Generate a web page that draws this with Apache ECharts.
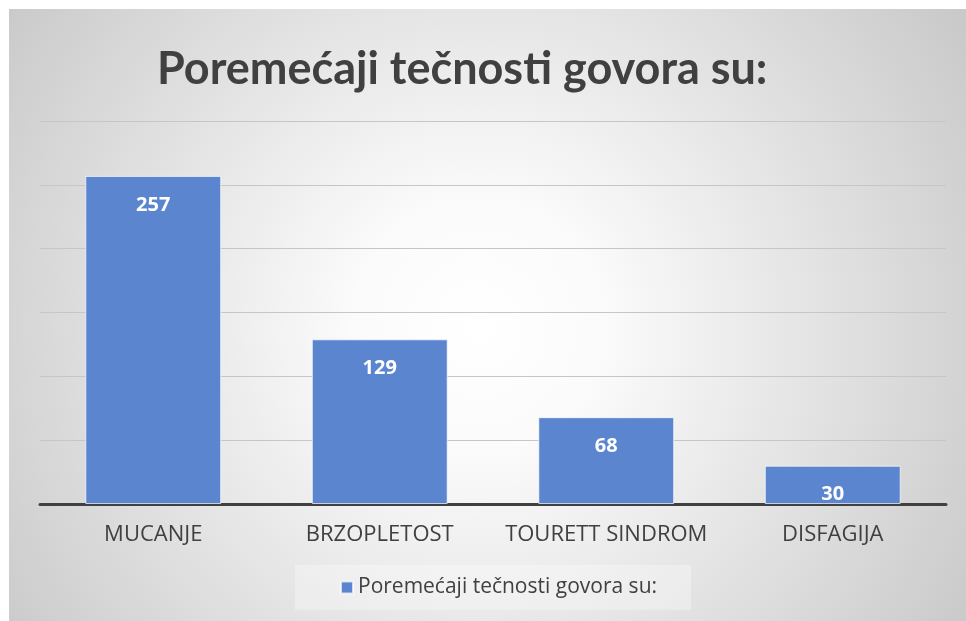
<!DOCTYPE html>
<html>
<head>
<meta charset="utf-8">
<script src="https://cdn.jsdelivr.net/npm/echarts@6/dist/echarts.min.js"></script>
<style>
html,body{margin:0;padding:0;background:#fff;}
#main{width:966px;height:621px;}
</style>
</head>
<body>
<div id="main"></div>
<script>
const titleText = 'Poremećaji tečnosti govora su:';
const seriesName = 'Poremećaji tečnosti govora su:';
const categories = ['MUCANJE', 'BRZOPLETOST', 'TOURETT SINDROM', 'DISFAGIJA'];
const values = [257, 129, 68, 30];
const yMin = 0, yMax = 300, yInterval = 50;

const chart = echarts.init(document.getElementById('main'));
chart.setOption({
  animation: false,
  backgroundColor: '#ffffff',
  graphic: [{
    type: 'rect', z: -10, silent: true,
    shape: { x: 9, y: 9, width: 957, height: 612 },
    style: {
      fill: new echarts.graphic.RadialGradient(0.49, 0.52, 1, [
        { offset: 0, color: '#ffffff' },
        { offset: 0.2, color: '#fbfbfb' },
        { offset: 0.93, color: '#cacaca' },
        { offset: 1, color: '#c7c7c7' }
      ])
    }
  }],
  title: {
    text: titleText,
    left: 152, top: 42,
    textStyle: { fontFamily: 'Lato', fontWeight: 'bold', fontSize: 45, color: '#404040' }
  },
  legend: {
    data: [seriesName],
    left: 295, top: 565,
    icon: 'rect', itemWidth: 12, itemHeight: 12, itemGap: 5,
    padding: [12, 34, 12, 45],
    backgroundColor: 'rgba(255,255,255,0.3)',
    textStyle: { fontFamily: 'Open Sans', fontSize: 21, color: '#404040' }
  },
  grid: { left: 40, right: 20, top: 121, bottom: 117, containLabel: false },
  xAxis: {
    type: 'category', data: categories,
    axisLine: { lineStyle: { color: '#404040', width: 3 } },
    axisTick: { show: false },
    axisLabel: { interval: 0, margin: 20, fontFamily: 'Open Sans', fontSize: 22, color: '#404040' }
  },
  yAxis: {
    type: 'value', min: yMin, max: yMax, interval: yInterval,
    axisLabel: { show: false }, axisLine: { show: false }, axisTick: { show: false },
    splitLine: { lineStyle: { color: '#c6c6c6', width: 1 } }
  },
  series: [{
    name: seriesName, type: 'bar', data: values, barWidth: '60%',
    itemStyle: { color: '#5b86cf', borderColor: 'rgba(255,255,255,0.7)', borderWidth: 1 },
    label: { show: true, position: 'insideTop', distance: 19, fontFamily: 'Open Sans', fontWeight: 'bold', fontSize: 20, color: '#ffffff' }
  }]
});
</script>
</body>
</html>
